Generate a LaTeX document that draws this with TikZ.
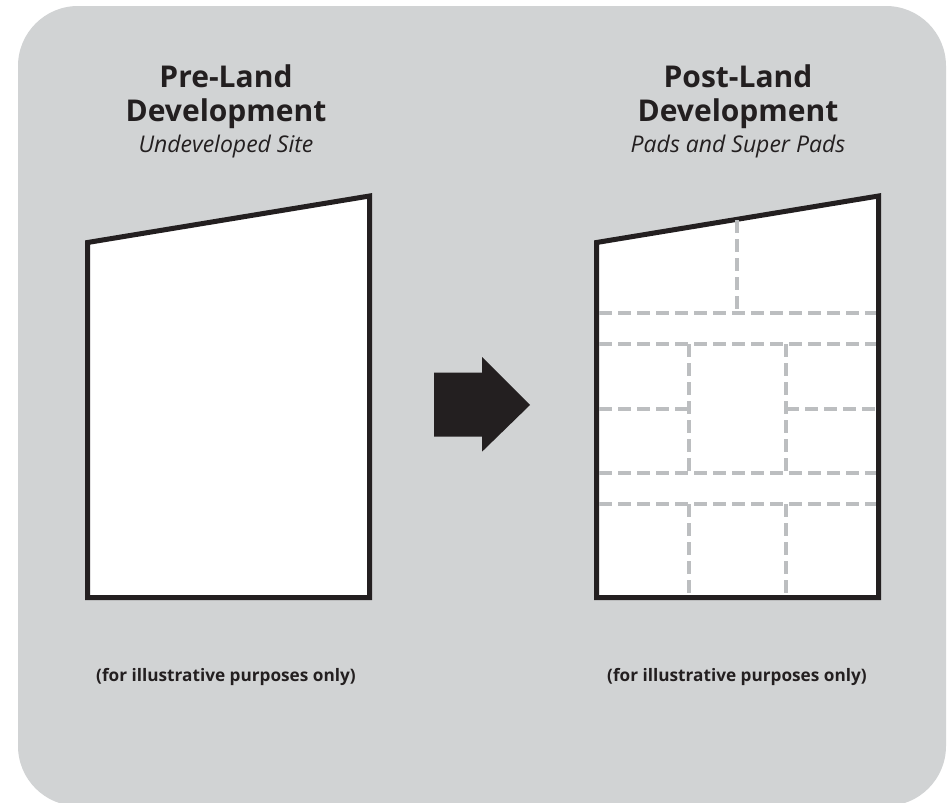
\documentclass[tikz,border=0pt]{standalone}
\usepackage{fontspec}
\setmainfont{Open Sans}
\definecolor{panelgray}{HTML}{D1D3D4}
\definecolor{padgray}{HTML}{BCBEC0}
\definecolor{ink}{HTML}{231F20}
\tikzset{
  site/.style={fill=white, draw=ink, line width=5pt, line join=miter},
  padline/.style={draw=padgray, line width=4pt, dash pattern=on 13pt off 6pt},
  headline/.style={anchor=base, text=ink, inner sep=0pt, font=\fontsize{30}{34}\selectfont\bfseries},
  subline/.style={anchor=base, text=ink, inner sep=0pt, font=\fontsize{23}{25}\selectfont\itshape},
  noteline/.style={anchor=base, text=ink, inner sep=0pt, font=\fontsize{17.2}{22}\selectfont\bfseries}
}
\begin{document}
\begin{tikzpicture}[x=1pt, y=-1pt]
    \useasboundingbox (0,0) rectangle (951,803);
    % Background panel
    \fill[white] (0,0) rectangle (951,803);
    \fill[panelgray, rounded corners=60pt] (18,6) rectangle (946,806);

    % Left site (before)
    \node[headline] (preTop) at (226,87.3) {Pre-Land};
    \node[headline] (preBottom) at (226,121.7) {Development};
    \node[subline] (preSub) at (226,152) {Undeveloped Site};
    \draw[site] (87.5,242.5) -- (369.5,196) -- (369.5,597.5) -- (87.5,597.5) -- cycle;
    \node[noteline] (preNote) at (226,681.7) {(for illustrative purposes only)};

    % Arrow
    \fill[ink] (434,372.7) -- (482,372.7) -- (482,357) -- (530,405) -- (482,451.7) -- (482,436.7) -- (434,436.7) -- cycle;

    % Right site (after)
    \node[headline] (postTop) at (738,87.3) {Post-Land};
    \node[headline] (postBottom) at (738,121.7) {Development};
    \node[subline] (postSub) at (738,152) {Pads and Super Pads};
    \draw[site] (596.5,242.5) -- (878.5,196) -- (878.5,597.5) -- (596.5,597.5) -- cycle;
    \node[noteline] (postNote) at (737,681.7) {(for illustrative purposes only)};

    % Pad boundaries
    \draw[padline] (737.3,220) -- (737.3,312.7);
    \draw[padline] (599,312.7) -- (876,312.7);
    \draw[padline] (599,344) -- (876,344);
    \draw[padline] (599,408.7) -- (689.3,408.7);
    \draw[padline] (786,408.7) -- (876,408.7);
    \draw[padline] (599,472.7) -- (876,472.7);
    \draw[padline] (599,504) -- (876,504);
    \draw[padline] (689.3,344) -- (689.3,472.7);
    \draw[padline] (786,344) -- (786,472.7);
    \draw[padline] (689.3,504) -- (689.3,595);
    \draw[padline] (786,504) -- (786,595);
\end{tikzpicture}
\end{document}
